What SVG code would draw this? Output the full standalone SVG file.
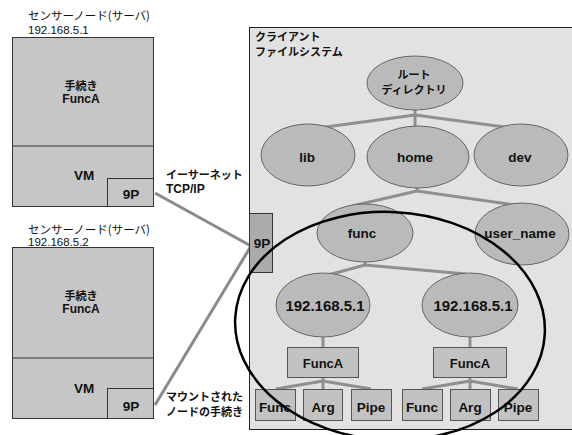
<svg xmlns="http://www.w3.org/2000/svg" width="572" height="435" viewBox="0 0 572 435">
<style>
text{fill:#111;font-family:"Liberation Sans","Noto Sans CJK JP",sans-serif}
.jp{font-family:"Noto Sans CJK JP",sans-serif;font-weight:bold;font-size:11px}
.jpn{font-family:"Noto Sans CJK JP",sans-serif;font-size:11.5px}
.lbl{font-weight:bold;font-size:13.5px;text-anchor:middle}
.c{text-anchor:middle}
.srv{fill:#c6c6c6;stroke:#333;stroke-width:1}
.p9{fill:#ababab;stroke:#333;stroke-width:1}
.ell{fill:#bababa;stroke:#666;stroke-width:1}
.box{fill:#c2c2c2;stroke:#555;stroke-width:1}
.conn{fill:none;stroke:#8f8f8f;stroke-width:3;stroke-linejoin:round}
.net{fill:none;stroke:#8a8a8a;stroke-width:3}
</style>

<g id="client-fs">
<rect x="249.5" y="27.5" width="330" height="402" fill="#e2e2e2" stroke="#222" stroke-width="1"/>
<text class="jp" x="255" y="41">クライアント</text>
<text class="jp" x="255" y="55.5">ファイルシステム</text>
</g>

<g id="server1">
<text class="jpn" x="28" y="20">センサーノード(サーバ)</text>
<text x="28" y="33.5" font-size="11.5">192.168.5.1</text>
<rect class="srv" x="12.5" y="37.5" width="141" height="169"/>
<line x1="12.5" y1="146" x2="153.5" y2="146" stroke="#333" stroke-width="1"/>
<text class="jp c" x="81" y="90" font-size="10.5px">手続き</text>
<text class="c" x="81" y="103" font-weight="bold" font-size="12">FuncA</text>
<text class="lbl" x="84" y="180">VM</text>
<rect class="srv" x="107.5" y="178.5" width="46" height="28"/>
<text class="lbl" x="131" y="199">9P</text>
</g>

<g id="server2">
<text class="jpn" x="28" y="233.5">センサーノード(サーバ)</text>
<text x="28" y="246" font-size="11.5">192.168.5.2</text>
<rect class="srv" x="12.5" y="247.5" width="141" height="171"/>
<line x1="12.5" y1="358" x2="153.5" y2="358" stroke="#333" stroke-width="1"/>
<text class="jp c" x="81" y="300" font-size="10.5px">手続き</text>
<text class="c" x="81" y="313" font-weight="bold" font-size="12">FuncA</text>
<text class="lbl" x="84" y="393">VM</text>
<rect class="srv" x="107.5" y="388.5" width="46" height="30"/>
<text class="lbl" x="131" y="411">9P</text>
</g>

<g id="ethernet-label">
<text class="jp" x="166" y="178.5">イーサーネット</text>
<text x="166" y="193" font-size="12" font-weight="bold">TCP/IP</text>
</g>

<g id="mount-label">
<text class="jp" x="166" y="401">マウントされた</text>
<text class="jp" x="166" y="415.5">ノードの手続き</text>
</g>

<g id="connectors">
<path class="net" d="M155,193 L251,246"/>
<path class="net" d="M155,405 L251,246"/>
<path class="conn" d="M415,110 L415,127 M318,128 L415,115 L512,128"/>
<path class="conn" d="M417,188 L417,192 M352,206 L417,191 L515,205"/>
<path class="conn" d="M365,262 L365,265 M328,275 L365,265 L466,274"/>
<path class="conn" d="M323,337 L323,347 M470,337 L470,347"/>
<path class="conn" d="M323,378 L323,381 M276,389 L323,381 L371,389 M323,381 L323,389"/>
<path class="conn" d="M470,378 L470,381 M422,389 L470,381 L518,389 M470,381 L470,389"/>
</g>

<g id="client-9p">
<rect class="p9" x="249.5" y="213.5" width="23" height="59"/>
<text class="lbl" x="262" y="248">9P</text>
</g>

<g id="root">
<ellipse class="ell" cx="415" cy="83" rx="48" ry="27"/>
<text class="jp c" x="414" y="79" font-size="10.5px">ルート</text>
<text class="jp c" x="414" y="94" font-size="10.5px">ディレクトリ</text>
</g>
<g id="lib">
<ellipse class="ell" cx="308" cy="155" rx="47" ry="31"/>
<text class="lbl" x="307" y="162">lib</text>
</g>
<g id="home">
<ellipse class="ell" cx="418" cy="157" rx="51" ry="31"/>
<text class="lbl" x="415" y="162">home</text>
</g>
<g id="dev">
<ellipse class="ell" cx="521" cy="155" rx="47" ry="31"/>
<text class="lbl" x="520" y="162">dev</text>
</g>
<g id="func">
<ellipse class="ell" cx="365" cy="233" rx="48" ry="29"/>
<text class="lbl" x="362" y="238">func</text>
</g>
<g id="user_name">
<ellipse class="ell" cx="522" cy="234" rx="47" ry="31"/>
<text class="lbl" x="520" y="238">user_name</text>
</g>
<g id="ip1">
<ellipse class="ell" cx="323" cy="305" rx="47" ry="32"/>
<text class="c" x="325" y="311" font-size="15" font-weight="bold">192.168.5.1</text>
</g>
<g id="ip2">
<ellipse class="ell" cx="470" cy="305" rx="48" ry="32"/>
<text class="c" x="473" y="311" font-size="15" font-weight="bold">192.168.5.1</text>
</g>
<g id="funcA1">
<rect class="box" x="287.5" y="347.5" width="71" height="30"/>
<text class="c" x="323" y="368" font-size="13" font-weight="bold">FuncA</text>
</g>
<g id="funcA2">
<rect class="box" x="433.5" y="347.5" width="73" height="30"/>
<text class="c" x="470" y="368" font-size="13" font-weight="bold">FuncA</text>
</g>
<g id="leaf-func1"><rect class="box" x="255.5" y="389.5" width="40" height="31"/><text class="lbl" x="275" y="412">Func</text></g>
<g id="leaf-arg1"><rect class="box" x="303.5" y="389.5" width="39" height="31"/><text class="lbl" x="323" y="412">Arg</text></g>
<g id="leaf-pipe1"><rect class="box" x="351.5" y="389.5" width="40" height="31"/><text class="lbl" x="371" y="412">Pipe</text></g>
<g id="leaf-func2"><rect class="box" x="402.5" y="389.5" width="40" height="31"/><text class="lbl" x="422" y="412">Func</text></g>
<g id="leaf-arg2"><rect class="box" x="450.5" y="389.5" width="40" height="31"/><text class="lbl" x="470" y="412">Arg</text></g>
<g id="leaf-pipe2"><rect class="box" x="498.5" y="389.5" width="40" height="31"/><text class="lbl" x="518" y="412">Pipe</text></g>

<g id="mount-ellipse">
<ellipse cx="390" cy="326" rx="155" ry="114" fill="none" stroke="#000" stroke-width="2.5" transform="rotate(3 390 326)"/>
</g>
</svg>
